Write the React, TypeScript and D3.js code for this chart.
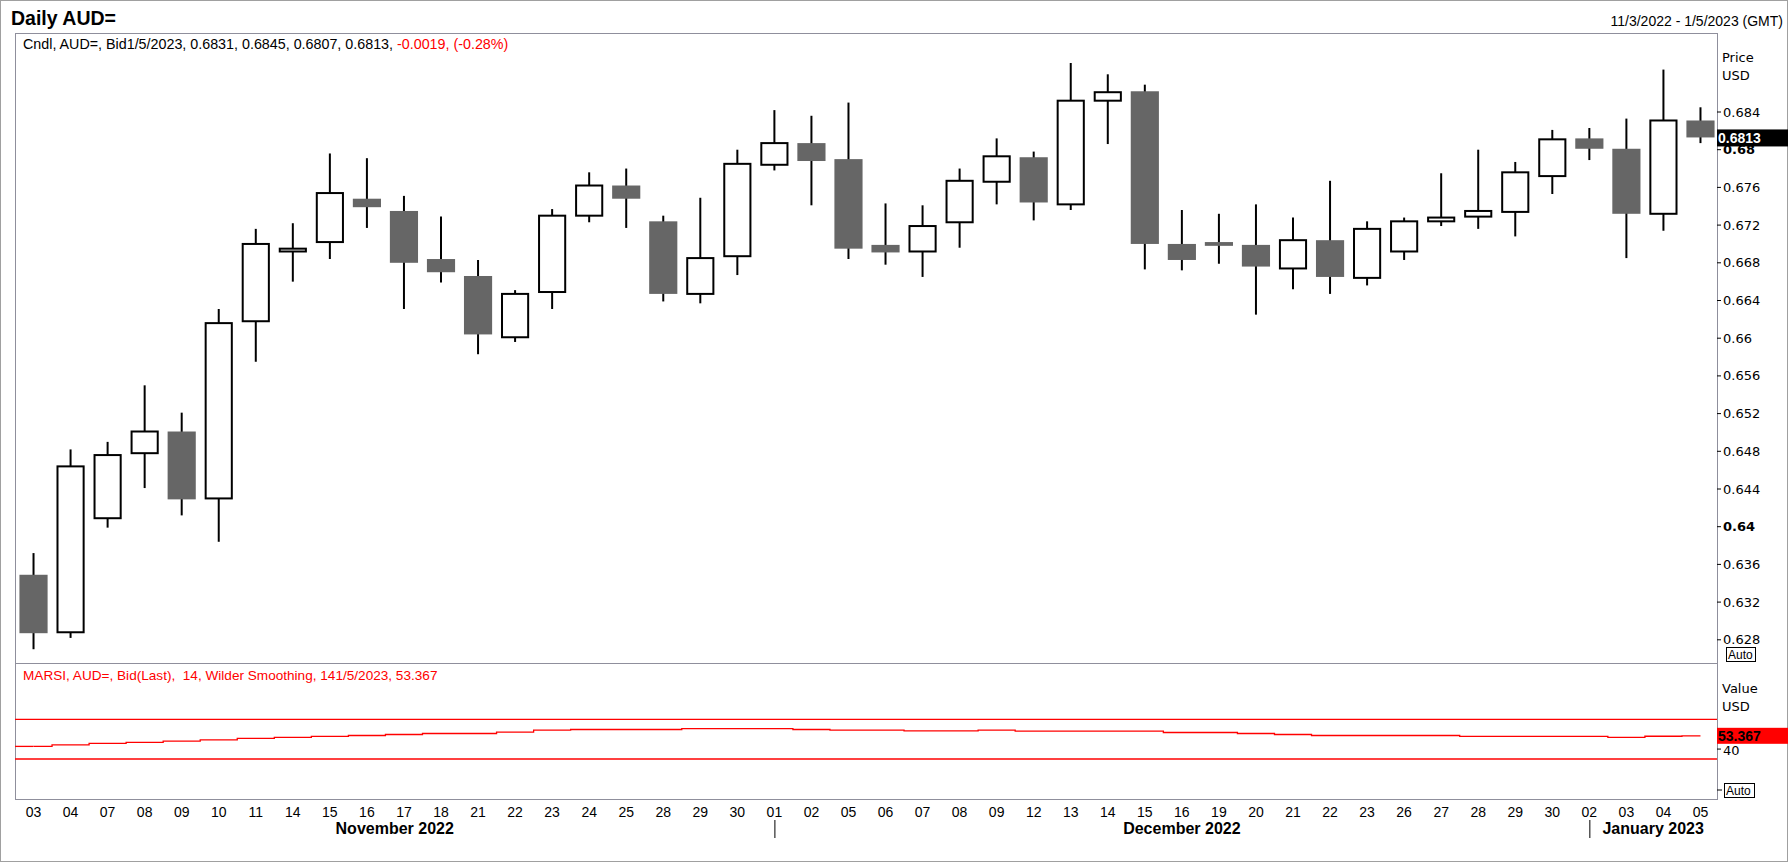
import React from 'react';
import * as d3 from 'd3';

// trading days shown on the axis
const days = [
  '03', '04', '07', '08', '09', '10', '11', '14', '15', '16', '17', '18', '21', '22', '23', '24', '25', '28', '29', '30',
  '01', '02', '05', '06', '07', '08', '09', '12', '13', '14', '15', '16', '19', '20', '21', '22', '23', '26', '27', '28', '29', '30',
  '02', '03', '04', '05',
];
const monthStarts = [20, 42]; // index of first day of Dec / Jan
const monthLabels = ['November 2022', 'December 2022', 'January 2023'];

const opens = [
  0.6349, 0.6288, 0.6409, 0.6478, 0.6501, 0.643, 0.6618, 0.6692, 0.6702, 0.6748, 0.6735, 0.6684, 0.6666, 0.6601, 0.6649,
  0.673, 0.6762, 0.6724, 0.6647, 0.6687, 0.6784, 0.6807, 0.679, 0.6699, 0.6692, 0.6723, 0.6766, 0.6792, 0.6742, 0.6852,
  0.6862, 0.67, 0.6702, 0.6699, 0.6674, 0.6704, 0.6664, 0.6692, 0.6724, 0.6729, 0.6734, 0.6772, 0.6812, 0.6801, 0.6732, 0.6831,
];
const highs = [
  0.6372, 0.6482, 0.649, 0.655, 0.6521, 0.6631, 0.6716, 0.6722, 0.6796, 0.6791, 0.6751, 0.6729, 0.6683, 0.6651, 0.6737,
  0.6776, 0.678, 0.673, 0.6749, 0.68, 0.6842, 0.6836, 0.685, 0.6743, 0.6741, 0.678, 0.6812, 0.6798, 0.6892, 0.688,
  0.6869, 0.6736, 0.6732, 0.6742, 0.6728, 0.6767, 0.6724, 0.6728, 0.6775, 0.68, 0.6787, 0.6821, 0.6823, 0.6833, 0.6885, 0.6845,
];
const lows = [
  0.627, 0.6282, 0.6399, 0.6441, 0.6412, 0.6384, 0.6575, 0.666, 0.6684, 0.6717, 0.6631, 0.6659, 0.6583, 0.6596, 0.6631,
  0.6723, 0.6717, 0.6639, 0.6637, 0.6667, 0.6778, 0.6741, 0.6684, 0.6678, 0.6665, 0.6696, 0.6742, 0.6725, 0.6736, 0.6806,
  0.6673, 0.6672, 0.6679, 0.6625, 0.6652, 0.6647, 0.6656, 0.6683, 0.6719, 0.6716, 0.6708, 0.6753, 0.6789, 0.6685, 0.6714, 0.6807,
];
const closes = [
  0.6287, 0.6464, 0.6476, 0.6501, 0.6429, 0.6616, 0.67, 0.6695, 0.6754, 0.6739, 0.668, 0.667, 0.6604, 0.6647, 0.673,
  0.6762, 0.6748, 0.6647, 0.6685, 0.6785, 0.6807, 0.6788, 0.6695, 0.6691, 0.6719, 0.6767, 0.6793, 0.6744, 0.6852, 0.6861,
  0.67, 0.6683, 0.6698, 0.6676, 0.6704, 0.6665, 0.6716, 0.6724, 0.6728, 0.6735, 0.6776, 0.6811, 0.6801, 0.6732, 0.6831, 0.6813,
];
const rsi = [
  42.7, 44.3, 45.7, 46.7, 48, 49.3, 50.7, 51.7, 52.7, 53.7, 54.7, 55.7, 55.7, 57, 59, 59.7, 59.7, 59.7, 60.7, 60.7,
  60.7, 59.7, 59, 59, 58.3, 58.3, 59, 58, 58, 58, 58, 56.7, 56.7, 55.7, 54.7, 53.7, 53.7, 53.7, 53.7, 52.7,
  52.7, 52.7, 52.7, 51.7, 52.9, 53.4,
];
const priceTicks = [0.628, 0.632, 0.636, 0.64, 0.644, 0.648, 0.652, 0.656, 0.66, 0.664, 0.668, 0.672, 0.676, 0.68, 0.684];
const rsiBands = [70, 30];

const W = 1788;
const H = 862;
const plotL = 15;
const plotR = 1717;
const priceTop = 33;
const sep = 663;
const rsiBottom = 799;
const font = '"Liberation Sans", Arial, sans-serif';
const axisFont = '"DejaVu Sans", Verdana, sans-serif';

export default function App() {
  const x = d3.scaleBand<number>()
    .domain(days.map((_, i) => i))
    .range([plotL, plotR + 2])
    .paddingInner(0.24)
    .paddingOuter(0.12);
  const cx = (i: number) => (x(i) as number) + x.bandwidth() / 2;
  const bw = x.bandwidth();

  const y = d3.scaleLinear().domain([0.628, 0.684]).range([639.8, 112]);
  const yr = d3.scaleLinear().domain([30, 70]).range([759, 719.3]);

  const rsiLine = d3.line<number>()
    .x((_, i) => cx(i))
    .y((d) => yr(d))
    .curve(d3.curveStep)(rsi);

  const monthBounds = [plotL, ...monthStarts.map(cx), plotR];

  return (
    <div style={{ position: 'absolute', left: 0, top: 0 }}>
      <svg width={W} height={H} style={{ display: 'block', fontFamily: font }}>
        <rect x={0} y={0} width={W} height={H} fill="#fff" />
        <rect x={0.5} y={0.5} width={W - 1} height={H - 1} fill="none" stroke="#a0a0a0" />

        <text x={11} y={25} fontSize={19.5} fontWeight="bold" fill="#000">Daily AUD=</text>
        <text x={1783} y={26} fontSize={14} textAnchor="end" fill="#000">11/3/2022 - 1/5/2023 (GMT)</text>

        {/* panels */}
        <rect x={plotL + 0.5} y={priceTop + 0.5} width={plotR - plotL} height={sep - priceTop} fill="none" stroke="#8f8f9c" />
        <rect x={plotL + 0.5} y={sep + 0.5} width={plotR - plotL} height={rsiBottom - sep} fill="none" stroke="#8f8f9c" />

        <text x={23} y={49} fontSize={14.3} fill="#000">
          Cndl, AUD=, Bid1/5/2023, 0.6831, 0.6845, 0.6807, 0.6813,{' '}
          <tspan fill="#ff0000">-0.0019, (-0.28%)</tspan>
        </text>

        {/* candles */}
        {days.map((_, i) => {
          const o = opens[i];
          const c = closes[i];
          const up = c >= o;
          const top = y(Math.max(o, c));
          const bot = y(Math.min(o, c));
          return (
            <g key={i}>
              <line x1={cx(i)} x2={cx(i)} y1={y(highs[i])} y2={y(lows[i])} stroke="#000" strokeWidth={2} />
              {up ? (
                <rect x={cx(i) - bw / 2 + 1} y={top} width={bw - 2} height={Math.max(bot - top, 1)}
                  fill="#fff" stroke="#000" strokeWidth={2} />
              ) : (
                <rect x={cx(i) - bw / 2} y={top} width={bw} height={Math.max(bot - top, 3)} fill="#666666" />
              )}
            </g>
          );
        })}

        {/* price axis */}
        <text x={1722} y={62} fontSize={13} fontFamily={axisFont} fill="#000">Price</text>
        <text x={1722} y={80} fontSize={13} fontFamily={axisFont} fill="#000">USD</text>
        {priceTicks.map((t) => {
          const bold = Math.abs(t - 0.64) < 1e-9 || Math.abs(t - 0.68) < 1e-9;
          return (
            <g key={t}>
              <line x1={plotR} x2={plotR + 4} y1={y(t)} y2={y(t)} stroke="#000" />
              <text x={plotR + 6} y={y(t)} dy="0.35em" fontSize={13} fontFamily={axisFont}
                fontWeight={bold ? 'bold' : 'normal'} fill="#000">
                {String(t)}
              </text>
            </g>
          );
        })}
        <rect x={plotR} y={y(0.6813) - 8} width={W - plotR} height={17} fill="#000" />
        <text x={plotR + 1} y={y(0.6813) + 1} dy="0.35em" fontSize={14} fontWeight="bold" fill="#fff">0.6813</text>
        <rect x={1726.5} y={647.5} width={29} height={14} fill="#fff" stroke="#000" />
        <text x={1728} y={659} fontSize={12} fill="#000">Auto</text>

        {/* RSI panel */}
        <text x={23} y={680} fontSize={13.6} fill="#ff0000" style={{ whiteSpace: 'pre' }}>
          {'MARSI, AUD=, Bid(Last),  14, Wilder Smoothing, 141/5/2023, 53.367'}
        </text>
        {rsiBands.map((b) => (
          <line key={b} x1={plotL} x2={plotR} y1={yr(b)} y2={yr(b)} stroke="#ff0000" strokeWidth={1.3} />
        ))}
        <line x1={plotL} x2={cx(0)} y1={yr(rsi[0])} y2={yr(rsi[0])} stroke="#ff0000" strokeWidth={1.3} />
        <path d={rsiLine || ''} fill="none" stroke="#ff0000" strokeWidth={1.3} />

        <text x={1722} y={693} fontSize={13} fontFamily={axisFont} fill="#000">Value</text>
        <text x={1722} y={711} fontSize={13} fontFamily={axisFont} fill="#000">USD</text>
        <line x1={plotR} x2={plotR + 4} y1={yr(40)} y2={yr(40)} stroke="#000" />
        <rect x={plotR} y={yr(53.367) - 8} width={W - plotR} height={16} fill="#ff0000" />
        <text x={plotR + 1} y={yr(53.367)} dy="0.35em" fontSize={14} fontWeight="bold" fill="#000">53.367</text>
        <text x={plotR + 6} y={yr(40) + 1} dy="0.35em" fontSize={13} fontFamily={axisFont} fill="#000">40</text>
        <line x1={plotR} x2={plotR + 5} y1={790} y2={790} stroke="#000" />
        <rect x={1724.5} y={783.5} width={30} height={14} fill="#fff" stroke="#000" />
        <text x={1726} y={795} fontSize={12} fill="#000">Auto</text>

        {/* x axis */}
        {days.map((d, i) => (
          <text key={i} x={cx(i)} y={817} fontSize={14} textAnchor="middle" fill="#000">{d}</text>
        ))}
        {monthStarts.map((m) => (
          <line key={m} x1={cx(m) + 0.5} x2={cx(m) + 0.5} y1={820} y2={838} stroke="#000" />
        ))}
        {monthLabels.map((m, k) => (
          <text key={m} x={(monthBounds[k] + monthBounds[k + 1]) / 2} y={834} fontSize={16} fontWeight="bold"
            textAnchor="middle" fill="#000">{m}</text>
        ))}
      </svg>
    </div>
  );
}
